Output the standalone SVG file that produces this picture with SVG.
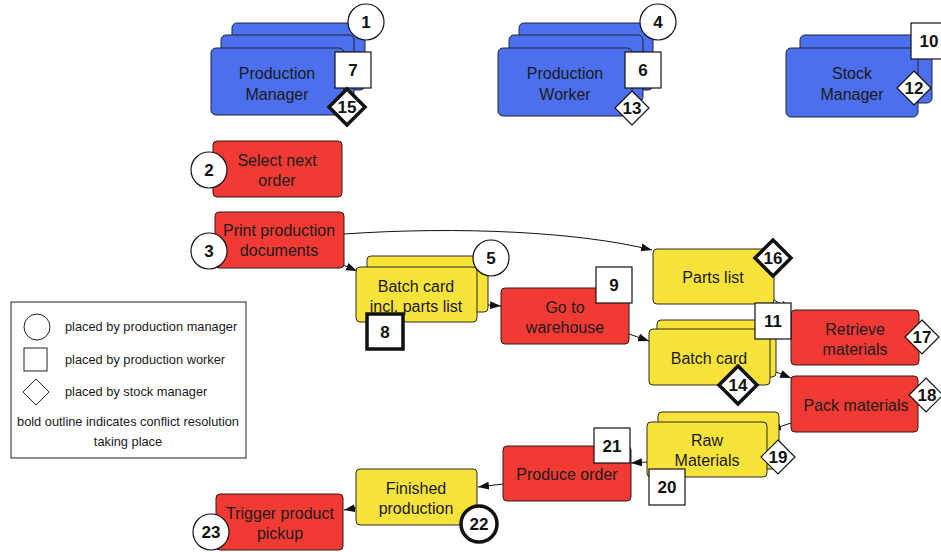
<svg xmlns="http://www.w3.org/2000/svg" width="941" height="552" viewBox="0 0 941 552">
  <style>
    .actor { fill: #4c6fee; stroke: #1e2433; stroke-width: 1; }
    .task { fill: #f23a34; stroke: #2a1a1a; stroke-width: 1; }
    .doc { fill: #f8e33a; stroke: #2a2a1a; stroke-width: 1; }
    .badge { fill: #ffffff; stroke: #111111; stroke-width: 1.2; }
    .bold { stroke-width: 3.5; }
    .lbl { font-family: "Liberation Sans", Arial, sans-serif; font-size: 16px; fill: #1a1a1a; text-anchor: middle; }
    .num { font-family: "Liberation Sans", Arial, sans-serif; font-size: 17px; font-weight: bold; fill: #111111; text-anchor: middle; dominant-baseline: central; }
    .leg { font-family: "Liberation Sans", Arial, sans-serif; font-size: 12.8px; fill: #1a1a1a; }
    .edge { fill: none; stroke: #111111; stroke-width: 1; marker-end: url(#arrow); }
  </style>
  <defs>
    <marker id="arrow" markerUnits="userSpaceOnUse" markerWidth="12" markerHeight="9" refX="11" refY="4" orient="auto">
      <path d="M0,0 L11,4 L0,8 z" fill="#111111"/>
    </marker>
  </defs>
  <rect width="941" height="552" fill="#ffffff"/>

  <!-- connectors -->
  <g id="connectors">
    <path class="edge" d="M344,234 C460,226 580,232 652,250"/>
    <path class="edge" d="M343,265 L357,271"/>
    <path class="edge" d="M488,305 L501,306"/>
    <path class="edge" d="M629,334 L649,341"/>
    <path class="edge" d="M774,300 L791,310"/>
    <path class="edge" d="M776,372 L791,378"/>
    <path class="edge" d="M791,423 L770,430"/>
    <path class="edge" d="M647,462 L631,463"/>
    <path class="edge" d="M503,484 L478,487"/>
    <path class="edge" d="M356,508 L344,510"/>
  </g>

  <!-- actors -->
  <g id="production-manager">
    <rect class="actor" x="232" y="23" width="133" height="67" rx="5"/>
    <rect class="actor" x="221" y="35" width="133" height="67" rx="5"/>
    <rect class="actor" x="211" y="48" width="133" height="67" rx="5"/>
    <text class="lbl" x="277" y="79">Production</text>
    <text class="lbl" x="277" y="100">Manager</text>
    <circle class="badge" cx="366" cy="22" r="18"/>
    <text class="num" x="366" y="22">1</text>
    <rect class="badge" x="335" y="52" width="36" height="36"/>
    <text class="num" x="353" y="70">7</text>
    <polygon class="badge bold" points="347,89 365,107 347,125 329,107"/>
    <text class="num" x="347" y="107">15</text>
  </g>

  <g id="production-worker">
    <rect class="actor" x="519" y="23" width="134" height="67" rx="5"/>
    <rect class="actor" x="509" y="35" width="134" height="67" rx="5"/>
    <rect class="actor" x="498" y="48" width="134" height="68" rx="5"/>
    <text class="lbl" x="565" y="79">Production</text>
    <text class="lbl" x="565" y="100">Worker</text>
    <circle class="badge" cx="658" cy="22" r="18"/>
    <text class="num" x="658" y="22">4</text>
    <rect class="badge" x="625" y="52" width="36" height="36"/>
    <text class="num" x="643" y="70">6</text>
    <polygon class="badge" points="632,91 649,108 632,125 615,108"/>
    <text class="num" x="632" y="108">13</text>
  </g>

  <g id="stock-manager">
    <rect class="actor" x="800" y="35" width="132" height="68" rx="5"/>
    <rect class="actor" x="786" y="48" width="132" height="69" rx="5"/>
    <text class="lbl" x="852" y="79">Stock</text>
    <text class="lbl" x="852" y="100">Manager</text>
    <rect class="badge" x="911" y="23" width="36" height="36"/>
    <text class="num" x="929" y="41">10</text>
    <polygon class="badge" points="914,71 931,88 914,105 897,88"/>
    <text class="num" x="914" y="88">12</text>
  </g>

  <!-- tasks and documents -->
  <g id="select-next-order">
    <rect class="task" x="213" y="141" width="129" height="56" rx="4"/>
    <text class="lbl" x="277" y="166">Select next</text>
    <text class="lbl" x="277" y="186">order</text>
    <circle class="badge" cx="209" cy="170" r="18"/>
    <text class="num" x="209" y="170">2</text>
  </g>

  <g id="print-production-documents">
    <rect class="task" x="215" y="212" width="129" height="56" rx="4"/>
    <text class="lbl" x="279" y="236">Print production</text>
    <text class="lbl" x="279" y="256">documents</text>
    <circle class="badge" cx="209" cy="251" r="18"/>
    <text class="num" x="209" y="251">3</text>
  </g>

  <g id="batch-card-parts-list">
    <rect class="doc" x="367" y="256" width="121" height="56" rx="4"/>
    <rect class="doc" x="356" y="267" width="121" height="55" rx="4"/>
    <text class="lbl" x="416" y="292">Batch card</text>
    <text class="lbl" x="416" y="312">incl. parts list</text>
    <circle class="badge" cx="491" cy="258" r="18"/>
    <text class="num" x="491" y="258">5</text>
    <rect class="badge bold" x="367" y="314" width="36" height="35"/>
    <text class="num" x="385" y="332">8</text>
  </g>

  <g id="go-to-warehouse">
    <rect class="task" x="501" y="288" width="128" height="56" rx="4"/>
    <text class="lbl" x="565" y="313">Go to</text>
    <text class="lbl" x="565" y="333">warehouse</text>
    <rect class="badge" x="596" y="267" width="36" height="36"/>
    <text class="num" x="614" y="285">9</text>
  </g>

  <g id="parts-list">
    <rect class="doc" x="653" y="249" width="121" height="55" rx="4"/>
    <text class="lbl" x="713" y="283">Parts list</text>
    <polygon class="badge bold" points="773,240 791,258 773,276 755,258"/>
    <text class="num" x="773" y="258">16</text>
  </g>

  <g id="retrieve-materials">
    <rect class="task" x="791" y="310" width="128" height="55" rx="4"/>
    <text class="lbl" x="855" y="335">Retrieve</text>
    <text class="lbl" x="855" y="355">materials</text>
    <polygon class="badge" points="922,320 939,337 922,354 905,337"/>
    <text class="num" x="922" y="337">17</text>
  </g>

  <g id="batch-card">
    <rect class="doc" x="657" y="320" width="119" height="57" rx="4"/>
    <rect class="doc" x="649" y="329" width="121" height="56" rx="4"/>
    <text class="lbl" x="709" y="364">Batch card</text>
    <rect class="badge" x="755" y="303" width="36" height="36"/>
    <text class="num" x="773" y="321">11</text>
    <polygon class="badge bold" points="738,366 757,385 738,404 719,385"/>
    <text class="num" x="738" y="385">14</text>
  </g>

  <g id="pack-materials">
    <rect class="task" x="791" y="376" width="127" height="56" rx="4"/>
    <text class="lbl" x="856" y="411">Pack materials</text>
    <polygon class="badge" points="926,378 943,395 926,412 909,395"/>
    <text class="num" x="927" y="395">18</text>
  </g>

  <g id="raw-materials">
    <rect class="doc" x="658" y="412" width="121" height="57" rx="4"/>
    <rect class="doc" x="647" y="422" width="120" height="55" rx="4"/>
    <text class="lbl" x="707" y="446">Raw</text>
    <text class="lbl" x="707" y="466">Materials</text>
    <polygon class="badge" points="778,440 795,457 778,474 761,457"/>
    <text class="num" x="778" y="457">19</text>
    <rect class="badge" x="649" y="469" width="36" height="36"/>
    <text class="num" x="667" y="487">20</text>
  </g>

  <g id="produce-order">
    <rect class="task" x="503" y="446" width="128" height="55" rx="4"/>
    <text class="lbl" x="567" y="480">Produce order</text>
    <rect class="badge" x="594" y="428" width="36" height="35"/>
    <text class="num" x="612" y="446">21</text>
  </g>

  <g id="finished-production">
    <rect class="doc" x="356" y="469" width="121" height="56" rx="4"/>
    <text class="lbl" x="416" y="494">Finished</text>
    <text class="lbl" x="416" y="514">production</text>
    <circle class="badge bold" cx="479" cy="524" r="18"/>
    <text class="num" x="479" y="524">22</text>
  </g>

  <g id="trigger-product-pickup">
    <rect class="task" x="216" y="494" width="127" height="56" rx="4"/>
    <text class="lbl" x="280" y="519">Trigger product</text>
    <text class="lbl" x="280" y="539">pickup</text>
    <circle class="badge" cx="211" cy="532" r="18"/>
    <text class="num" x="211" y="532">23</text>
  </g>

  <!-- legend -->
  <g id="legend">
    <rect x="11" y="302" width="235" height="156" fill="#ffffff" stroke="#222222" stroke-width="1"/>
    <circle cx="37" cy="327" r="13" fill="none" stroke="#222222" stroke-width="1"/>
    <text class="leg" x="65" y="331">placed by production manager</text>
    <rect x="24" y="348" width="23" height="23" fill="none" stroke="#222222" stroke-width="1"/>
    <text class="leg" x="65" y="364">placed by production worker</text>
    <polygon points="36,379 49,392 36,405 23,392" fill="none" stroke="#222222" stroke-width="1"/>
    <text class="leg" x="65" y="396">placed by stock manager</text>
    <text class="leg" x="128" y="426" text-anchor="middle">bold outline indicates conflict resolution</text>
    <text class="leg" x="128" y="446" text-anchor="middle">taking place</text>
  </g>
</svg>
